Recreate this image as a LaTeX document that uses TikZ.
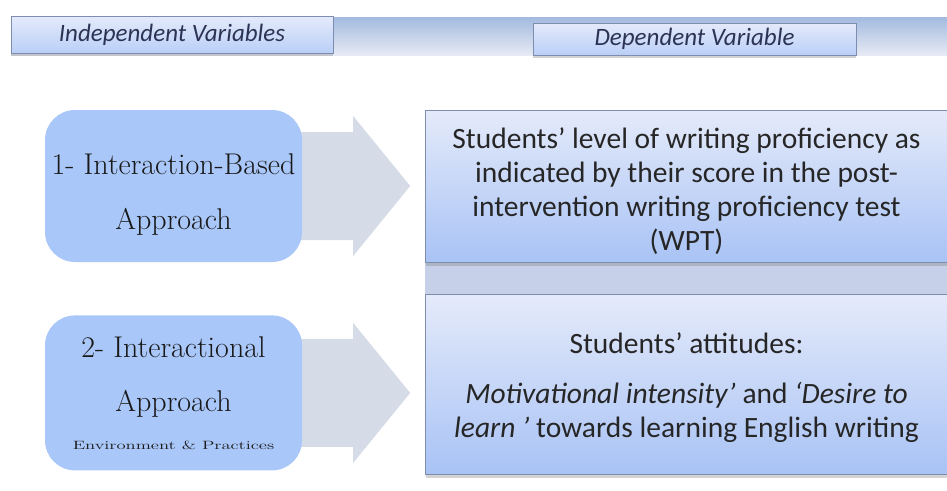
\documentclass[tikz,border=0pt]{standalone}
\usepackage{fontspec}
\newfontfamily\calibri{Carlito}
\usetikzlibrary{positioning, shadows, backgrounds}

\definecolor{bandtop}{HTML}{A3BADF}
\definecolor{bandbot}{HTML}{E6EAF4}
\definecolor{boxline}{HTML}{7C8DB0}
\definecolor{paletop}{HTML}{E4EAFA}
\definecolor{palebot}{HTML}{A9C3F5}
\definecolor{ivfill}{HTML}{A9C7F8}
\definecolor{arrowgray}{HTML}{D6DCE7}
\definecolor{panel}{HTML}{C6D0E8}
\definecolor{labeltext}{HTML}{2C3354}
\definecolor{bodytext}{HTML}{262626}

\tikzset{
  headbox/.style={draw=boxline, top color=paletop, bottom color=palebot!80,
    drop shadow={shadow xshift=0pt, shadow yshift=-3pt, opacity=0.35},
    inner sep=0pt, text=labeltext,
    font=\calibri\itshape\fontsize{25}{28}\selectfont},
  ivbox/.style={fill=ivfill, rounded corners=30pt, inner sep=0pt,
    minimum width=257pt, align=center, text=black!90,
    font=\fontsize{30}{36}\selectfont},
  dvbox/.style={draw=boxline, line width=1pt, top color=paletop,
    bottom color=palebot, drop shadow={shadow xshift=0pt,
    shadow yshift=-4pt, opacity=0.35}, inner sep=0pt,
    minimum width=522pt, align=center, text=bodytext,
    font=\calibri\fontsize{29.5}{34}\selectfont},
  arrowfill/.style={fill=arrowgray},
}

% block arrow leaving a box to the right
\newcommand{\flowarrow}[1]{%
  \fill[arrowfill] (#1.east) ++(-20,-54) -- ++(71,0) -- ++(0,-16)
    -- ++(57,70) -- ++(-57,70) -- ++(0,-16) -- ++(-71,0) -- cycle;}

\begin{document}
\begin{tikzpicture}[x=1pt, y=-1pt]
  \useasboundingbox (0,0) rectangle (947,490);

  % heading strip
  \shade[top color=bandtop, bottom color=bandbot] (11,17) rectangle (947,55);
  \node [headbox, minimum width=322pt, minimum height=37pt] (indep)
    at (172,34.5) {Independent Variables};
  \node [headbox, minimum width=323pt, minimum height=32pt] (dep)
    at (694.5,39) {Dependent Variable};

  % independent variables
  \node [ivbox, minimum height=152pt] (ivA) at (173.5,186)
    {\rule{0pt}{37pt}1- Interaction-Based\\[19pt]Approach};
  \node [ivbox, minimum height=155pt, below=53pt of ivA] (ivB)
    {2- Interactional\\[18pt]Approach\\[2pt]
     \scalebox{1.55}[1]{\fontsize{12}{14}\selectfont Environment \& Practices}};

  % dependent variables
  \node [dvbox, minimum height=152pt] (dvA) at (686.5,186)
    {\rule{0pt}{32pt}Students’ level of writing proficiency as\\
     indicated by their score in the post-\\
     intervention writing proficiency test\\
     (WPT)};
  \node [dvbox, minimum height=180pt, below=31pt of dvA] (dvB)
    {\rule{0pt}{28pt}Students’ attitudes:\\[16pt]
     \textit{Motivational intensity’} and \textit{‘Desire to}\\
     \textit{learn ’} towards learning English writing};

  \begin{scope}[on background layer]
    \fill[panel] ([yshift=6pt]dvA.south west) rectangle ([yshift=-6pt]dvB.north east);
    \flowarrow{ivA}
    \flowarrow{ivB}
  \end{scope}
\end{tikzpicture}
\end{document}
